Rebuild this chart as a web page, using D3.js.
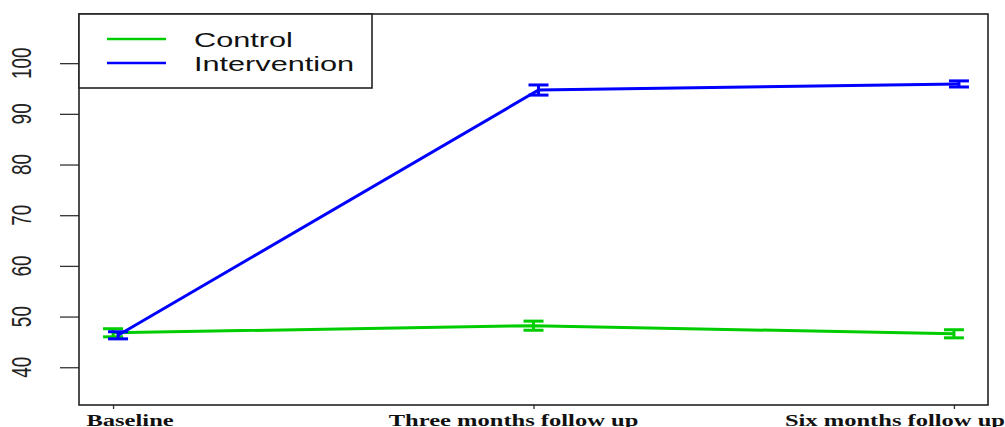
<!DOCTYPE html>
<meta charset="utf-8">
<script src="https://d3js.org/d3.v7.min.js"></script>
<style>
  body { margin: 0; background: #fff; }
</style>
<div id="my_dataviz"></div>
<script>
// data
var timepoints = ["Baseline", "Three months follow up", "Six months follow up"];
var controlMean = [46.8, 48.2, 46.6];
var controlErr = [0.8, 0.9, 0.8];
var interventionMean = [46.3, 94.7, 95.9];
var interventionErr = [0.7, 1.0, 0.6];
var yTicks = [40, 50, 60, 70, 80, 90, 100];

var W = 1005, H = 427;
var box = {left: 79, right: 988, top: 14, bottom: 405};
var stretch = 1.46; // picture is stretched sideways

var svg = d3.select("#my_dataviz")
  .append("svg")
    .attr("width", W)
    .attr("height", H);

var x = d3.scaleLinear()
  .domain([0.919, 3.081])
  .range([box.left, box.right]);

var y = d3.scaleLinear()
  .domain([32.55, 109.7])
  .range([box.bottom, box.top]);

var series = [
  {name: "Control", mean: controlMean, err: controlErr, color: "#00cd00", dodge: 0},
  {name: "Intervention", mean: interventionMean, err: interventionErr, color: "#0000ff", dodge: 5}
];

// y axis
var yAxis = svg.append("g")
  .attr("transform", "translate(" + box.left + ",0)")
  .call(d3.axisLeft(y).tickValues(yTicks).tickSize(19).tickFormat(""));
yAxis.select(".domain").remove();
yAxis.selectAll("line").attr("stroke", "#333").attr("stroke-width", 1.3);

svg.append("g").selectAll("text")
  .data(yTicks)
  .enter()
  .append("text")
    .attr("transform", function(d){ return "translate(21," + y(d) + ") scale(" + stretch + ",1) rotate(-90)"; })
    .attr("text-anchor", "middle")
    .attr("dy", "0.36em")
    .style("font-family", "Liberation Sans, Arial, sans-serif")
    .style("font-size", "19px")
    .attr("fill", "#222")
    .text(function(d){ return d; });

// x axis ticks
var xAxis = svg.append("g")
  .attr("transform", "translate(0," + box.bottom + ")")
  .call(d3.axisBottom(x).tickValues([1, 2, 3]).tickSize(4).tickFormat(""));
xAxis.select(".domain").remove();
xAxis.selectAll("line").attr("stroke", "#333").attr("stroke-width", 1.3);

// x labels, placed as in the picture
var labelShift = [17, -20, -59];
svg.append("g").selectAll("text")
  .data(timepoints)
  .enter()
  .append("text")
    .attr("transform", function(d, i){ return "translate(" + (x(i + 1) + labelShift[i]) + ",426) scale(" + stretch + ",1)"; })
    .attr("text-anchor", "middle")
    .style("font-family", "Liberation Serif, Times New Roman, serif")
    .style("font-weight", "bold")
    .style("font-size", "16.8px")
    .attr("fill", "#111")
    .text(function(d){ return d; });

// lines and error bars
var line = d3.line()
  .x(function(d){ return d.px; })
  .y(function(d){ return y(d.v); });

series.forEach(function(s){
  var pts = s.mean.map(function(v, i){ return {px: x(i + 1) + s.dodge, v: v, e: s.err[i]}; });
  var g = svg.append("g");
  g.append("path")
    .datum(pts)
    .attr("d", line)
    .attr("fill", "none")
    .attr("stroke", s.color)
    .attr("stroke-width", 3);
  var eb = g.selectAll(".eb")
    .data(pts)
    .enter()
    .append("g");
  eb.append("line")
    .attr("x1", function(d){ return d.px; })
    .attr("x2", function(d){ return d.px; })
    .attr("y1", function(d){ return y(d.v - d.e); })
    .attr("y2", function(d){ return y(d.v + d.e); })
    .attr("stroke", s.color).attr("stroke-width", 3);
  [-1, 1].forEach(function(sg){
    eb.append("line")
      .attr("x1", function(d){ return d.px - 10; })
      .attr("x2", function(d){ return d.px + 10; })
      .attr("y1", function(d){ return y(d.v + sg * d.e); })
      .attr("y2", function(d){ return y(d.v + sg * d.e); })
      .attr("stroke", s.color).attr("stroke-width", 3);
  });
});

// plot frame
svg.append("rect")
  .attr("x", box.left).attr("y", box.top)
  .attr("width", box.right - box.left).attr("height", box.bottom - box.top)
  .attr("fill", "none").attr("stroke", "#222").attr("stroke-width", 1.6);

// legend
var leg = svg.append("g");
leg.append("rect")
  .attr("x", box.left).attr("y", box.top)
  .attr("width", 293).attr("height", 74)
  .attr("fill", "#fff").attr("stroke", "#222").attr("stroke-width", 1.6);
series.forEach(function(s, i){
  var ly = 39 + i * 24;
  leg.append("line")
    .attr("x1", 107).attr("x2", 166)
    .attr("y1", ly).attr("y2", ly)
    .attr("stroke", s.color).attr("stroke-width", 2.5);
  leg.append("text")
    .attr("transform", "translate(194," + ly + ") scale(" + stretch + ",1)")
    .attr("dy", "0.36em")
    .style("font-family", "Liberation Sans, Arial, sans-serif")
    .style("font-size", "21px")
    .attr("fill", "#111")
    .text(s.name);
});
</script>
